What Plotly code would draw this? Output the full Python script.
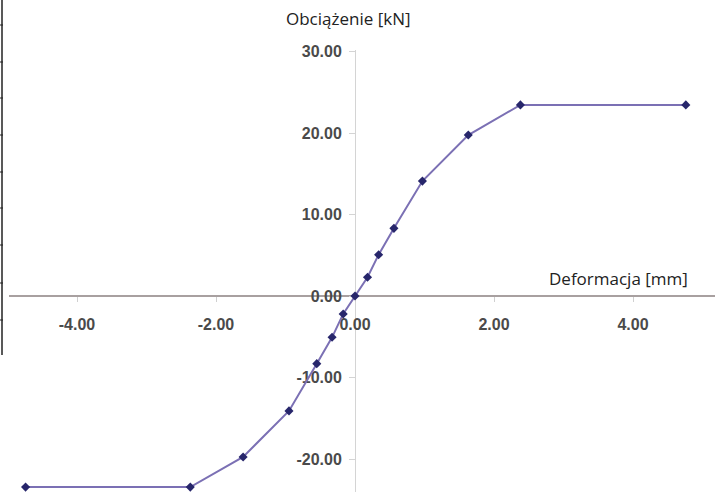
import plotly.graph_objects as go

deformation = [-4.74, -2.37, -1.61, -0.95, -0.55, -0.33, -0.17, 0.0, 0.18, 0.34, 0.56, 0.97, 1.63, 2.38, 4.76]
load = [-23.45, -23.45, -19.75, -14.1, -8.3, -5.07, -2.2, 0.0, 2.3, 5.07, 8.3, 14.1, 19.75, 23.45, 23.45]
x_ticks = [-4, -2, 0, 2, 4]
y_ticks = [-20, -10, 0, 10, 20, 30]

W, H = 723, 492
x0_px, px_per_x = 355, 69.5
y0_px, px_per_y = 296, 8.15
top_m = 50
x_dom = [9 / W, 715 / W]
x_range = [(9 - x0_px) / px_per_x, (715 - x0_px) / px_per_x]
y_range = [-(H - y0_px) / px_per_y, (y0_px - top_m) / px_per_y]

fig = go.Figure()
fig.add_trace(go.Scatter(
    x=deformation, y=load, mode="lines+markers",
    line=dict(color="#7b70b4", width=2),
    marker=dict(symbol="diamond", size=7, color="#27266b"),
    cliponaxis=False, showlegend=False,
))

tick_font = dict(family="Liberation Sans", size=16, color="#4a4a4a", weight="bold")
fig.update_layout(
    width=W, height=H,
    margin=dict(l=0, r=0, t=top_m, b=0, autoexpand=False),
    paper_bgcolor="white", plot_bgcolor="white",
    xaxis=dict(
        domain=x_dom, range=x_range, tickvals=x_ticks,
        ticktext=[f"{v:.2f}" for v in x_ticks],
        anchor="free", position=(H - y0_px) / (H - top_m), automargin=False,
        showgrid=False, zeroline=False, layer="below traces",
        showline=True, linecolor="#a8a0a0", linewidth=2,
        ticks="outside", ticklen=5, tickcolor="#d0d0d0",
        tickfont=tick_font, ticklabelstandoff=9,
    ),
    yaxis=dict(
        range=y_range, tickvals=y_ticks,
        ticktext=[f"{v:.2f}" for v in y_ticks],
        anchor="free", position=x0_px / W, automargin=False,
        showgrid=False, zeroline=False, layer="below traces",
        showline=True, linecolor="#d4d4d4", linewidth=1,
        ticks="outside", ticklen=6, tickcolor="#d4d4d4",
        tickfont=tick_font, ticklabelstandoff=4,
    ),
)

title_font = dict(family="Open Sans, sans-serif", size=17, color="#222222")
fig.add_annotation(text="Obciążenie [kN]", xref="paper", yref="paper",
                   x=348 / W, y=1 + (top_m - 18) / (H - top_m), showarrow=False,
                   font=title_font, xanchor="center", yanchor="middle")
fig.add_annotation(text="Deformacja [mm]", xref="paper", yref="paper",
                   x=618 / W, y=(H - 278) / (H - top_m), showarrow=False,
                   font=title_font, xanchor="center", yanchor="middle")

# left border decoration
fig.add_shape(type="line", xref="paper", yref="paper",
              x0=2 / W, x1=2 / W, y0=(H - 355) / (H - top_m), y1=1 + top_m / (H - top_m),
              line=dict(color="#222222", width=1.5))
for ty in [25, 62, 98, 135, 172, 208, 245, 283, 320]:
    fig.add_shape(type="line", xref="paper", yref="paper",
                  x0=0, x1=3 / W, y0=(H - ty) / (H - top_m), y1=(H - ty) / (H - top_m),
                  line=dict(color="#222222", width=1))

fig.write_html("out.html", config={"displayModeBar": False},
               post_script="document.body.style.margin='0';document.body.style.overflow='hidden';")
